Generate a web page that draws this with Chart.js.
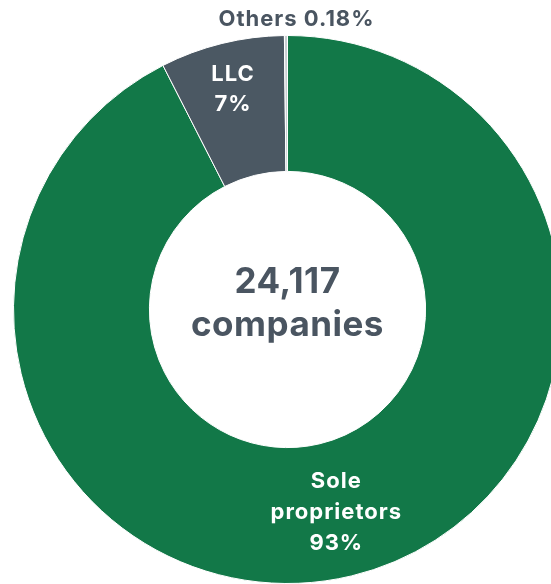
<!DOCTYPE html>
<html>
<head>
<meta charset="utf-8">
<script src="https://cdn.jsdelivr.net/npm/chart.js@4/dist/chart.umd.min.js"></script>
<style>
  html, body { margin: 0; padding: 0; background: #fff; overflow: hidden; width: 551px; height: 584px; }
  #wrap { position: absolute; left: 0; top: 0; width: 576px; height: 620px; }
</style>
</head>
<body>
<div id="wrap"><canvas id="c" width="576" height="620"></canvas></div>
<script>
// Data
const categories = ["Sole proprietors", "LLC", "Others"];
const shares = [92.49, 7.33, 0.18];
const shareLabels = ["93%", "7%", "0.18%"];
const totalCompanies = "24,117";
const centerWord = "companies";

const colors = ["#127848", "#4b5863", "#c9ced2"];
const slate = "#4a5561";
const FONT = "Inter";

const labelPlugin = {
  id: 'labels',
  afterDraw(chart) {
    const ctx = chart.ctx;
    const arcs = chart.getDatasetMeta(0).data;
    ctx.save();
    ctx.textAlign = 'center';
    ctx.textBaseline = 'middle';

    // center text
    const cx = arcs[0].x, cy = arcs[0].y;
    ctx.fillStyle = slate;
    ctx.font = `700 35px ${FONT}`;
    ctx.letterSpacing = '0.5px';
    ctx.fillText(totalCompanies, cx, cy - 27);
    ctx.fillText(centerWord, cx, cy + 16);

    const place = (arc, rFrac) => {
      const mid = (arc.startAngle + arc.endAngle) / 2;
      const r = arc.innerRadius + (arc.outerRadius - arc.innerRadius) * rFrac;
      return [arc.x + Math.cos(mid) * r, arc.y + Math.sin(mid) * r];
    };

    ctx.font = `700 22px ${FONT}`;
    ctx.letterSpacing = '1px';
    // Sole proprietors
    let [x, y] = place(arcs[0], 0.52);
    ctx.fillStyle = '#ffffff';
    ctx.fillText("Sole", x, y - 31);
    ctx.fillText("proprietors", x, y);
    ctx.fillText(shareLabels[0], x, y + 31);

    // LLC
    [x, y] = place(arcs[1], 0.66);
    ctx.fillText(categories[1], x, y - 14);
    ctx.fillText(shareLabels[1], x, y + 16);

    // Others
    const a = arcs[2];
    ctx.fillStyle = slate;
    ctx.fillText(categories[2] + " " + shareLabels[2], a.x + 9, a.y - a.outerRadius - 16);
    ctx.restore();
  }
};

new Chart(document.getElementById('c'), {
  type: 'doughnut',
  data: {
    labels: categories,
    datasets: [{
      data: shares,
      backgroundColor: colors,
      borderColor: '#ffffff',
      borderWidth: 1,
      hoverOffset: 0
    }]
  },
  options: {
    responsive: false,
    animation: false,
    cutout: '50.4%',
    layout: { padding: { left: 13, right: 14, top: 35, bottom: 36 } },
    plugins: { legend: { display: false }, tooltip: { enabled: false } }
  },
  plugins: [labelPlugin]
});
</script>
</body>
</html>
